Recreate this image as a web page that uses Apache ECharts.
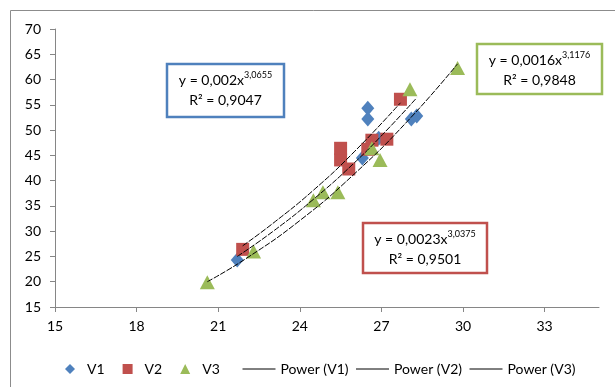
<!DOCTYPE html>
<html>
<head>
<meta charset="utf-8">
<script src="https://cdn.jsdelivr.net/npm/echarts@6/dist/echarts.min.js"></script>
<style>
  html, body { margin: 0; padding: 0; background: #fff; }
  #chart { width: 615px; height: 387px; }
</style>
</head>
<body>
<div id="chart"></div>
<script>
const v1 = [[21.7, 24.3], [26.3, 44.5], [26.9, 48.4], [26.5, 52.2], [26.5, 54.3], [28.1, 52.2], [28.3, 52.8]];
const v2 = [[21.9, 26.4], [25.5, 44.1], [25.5, 46.4], [25.8, 42.3], [26.5, 46.2], [26.65, 48.0], [27.2, 48.2], [27.7, 56.1]];
const v3 = [[20.6, 19.9], [22.3, 26.0], [24.5, 36.1], [24.85, 37.7], [25.4, 37.7], [26.65, 46.4], [26.95, 44.1], [28.05, 58.1], [29.8, 62.3]];

// trendline curves, traced along the drawn power fits
const powerV1 = [[21.7, 25.0], [23, 29.9], [24.5, 36.3], [26, 43.5], [27.2, 50.0], [28.3, 56.4]];
const powerV2 = [[21.9, 27.1], [23, 31.5], [24.5, 38.1], [26, 45.7], [27.7, 55.4]];
const powerV3 = [[20.6, 20.0], [22, 24.5], [24, 32.1], [26, 41.3], [28, 52.0], [29.8, 63.1]];

const xTicks = [15, 18, 21, 24, 27, 30, 33];

const blue = '#4F81BD', red = '#C0504D', green = '#9BBB59';
const font = 'Lato, "Liberation Sans", sans-serif';

const chart = echarts.init(document.getElementById('chart'));

function eqBox(x, y, w, h, color, coef, exp, r2) {
  return [
    {
      type: 'rect', z: 100,
      shape: { x: x, y: y, width: w, height: h },
      style: { fill: '#fff', stroke: color, lineWidth: 2.5 }
    },
    {
      type: 'text', z: 101,
      x: x + w / 2, y: y + 16,
      style: {
        text: '{a|y = ' + coef + 'x}{s|' + exp + '}',
        align: 'center', verticalAlign: 'middle',
        rich: {
          a: { fontSize: 14, fontFamily: font, fill: '#000' },
          s: { fontSize: 9, fontFamily: font, fill: '#000', padding: [0, 0, 9, 0] }
        }
      }
    },
    {
      type: 'text', z: 101,
      x: x + w / 2, y: y + 36,
      style: {
        text: 'R² = ' + r2,
        align: 'center', verticalAlign: 'middle',
        fontSize: 14, fontFamily: font, fill: '#000'
      }
    }
  ];
}

const trendLine = { color: '#000', width: 1, type: [6, 1.5] };

const option = {
  animation: false,
  backgroundColor: '#fff',
  grid: { left: 55, right: 16, top: 29, bottom: 80 },
  xAxis: {
    type: 'value', min: 15, max: 35, interval: 3,
    axisLine: { lineStyle: { color: '#868686' } },
    axisTick: { show: true, length: 5, lineStyle: { color: '#868686' }, customValues: xTicks },
    axisLabel: { color: '#000', fontSize: 14, fontFamily: font, margin: 12, customValues: xTicks },
    splitLine: { show: false }
  },
  yAxis: {
    type: 'value', min: 15, max: 70, interval: 5,
    axisLine: { show: true, lineStyle: { color: '#868686' } },
    axisTick: { show: true, length: 5, lineStyle: { color: '#868686' } },
    axisLabel: { color: '#000', fontSize: 14, fontFamily: font, margin: 14 },
    splitLine: { show: false }
  },
  legend: [
    {
      data: ['V1', 'V2', 'V3'],
      left: 60, top: 357,
      itemWidth: 10, itemHeight: 10, itemGap: 18,
      textStyle: { fontSize: 14, fontFamily: font, color: '#000', padding: [0, 0, 0, 7] }
    },
    {
      data: ['Power (V1)', 'Power (V2)', 'Power (V3)'],
      left: 237, top: 357,
      itemWidth: 33, itemHeight: 10, itemGap: 7,
      itemStyle: { opacity: 0 },
      lineStyle: { type: 'solid', width: 1, color: '#000' },
      textStyle: { fontSize: 14, fontFamily: font, color: '#000' }
    }
  ],
  series: [
    { name: 'V1', type: 'scatter', data: v1, symbol: 'diamond', symbolSize: [13, 15], itemStyle: { color: blue, opacity: 1 } },
    { name: 'V2', type: 'scatter', data: v2, symbol: 'rect', symbolSize: 13, itemStyle: { color: red, opacity: 1 } },
    { name: 'V3', type: 'scatter', data: v3, symbol: 'triangle', symbolSize: [15, 14], itemStyle: { color: green, opacity: 1 } },
    { name: 'Power (V1)', type: 'line', data: powerV1, smooth: true, symbol: 'none', lineStyle: trendLine, itemStyle: { color: '#000' } },
    { name: 'Power (V2)', type: 'line', data: powerV2, smooth: true, symbol: 'none', lineStyle: trendLine, itemStyle: { color: '#000' } },
    { name: 'Power (V3)', type: 'line', data: powerV3, smooth: true, symbol: 'none', lineStyle: trendLine, itemStyle: { color: '#000' } }
  ],
  graphic: [
    {
      type: 'rect', silent: true, z: -1,
      shape: { x: 10.5, y: 10.5, width: 620, height: 400 },
      style: { fill: 'none', stroke: '#8c8c8c', lineWidth: 1 }
    }
  ]
    .concat(eqBox(167, 64, 117, 53, blue, '0,002', '3,0655', '0,9047'))
    .concat(eqBox(477, 44, 125, 50, green, '0,0016', '3,1176', '0,9848'))
    .concat(eqBox(363, 223, 124, 50, red, '0,0023', '3,0375', '0,9501'))
};

chart.setOption(option);
</script>
</body>
</html>
